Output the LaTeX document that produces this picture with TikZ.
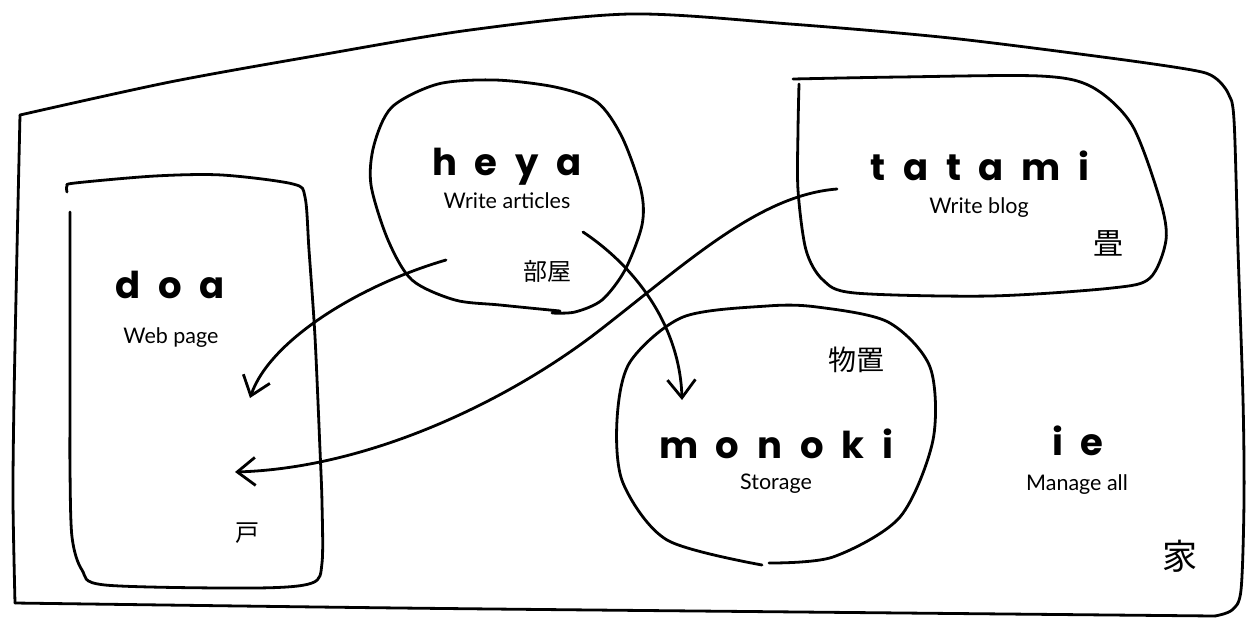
\documentclass[tikz,border=0pt]{standalone}
\usepackage{fontspec}
\setmainfont{Lato}
\newfontfamily\titlef[LetterSpace=48]{Poppins}
\newfontfamily\cjkf{Noto Sans CJK JP}
\usetikzlibrary{arrows.meta}
\begin{document}
\begin{tikzpicture}[x=1pt,y=-1pt,line cap=round,line join=round,
  title/.style={font=\titlef\bfseries\fontsize{37}{37}\selectfont,anchor=base,inner sep=0pt},
  sub/.style={font=\fontsize{21.5}{21.5}\selectfont,anchor=base,inner sep=0pt},
  kanji/.style={font=\cjkf\fontsize{24}{24}\selectfont,inner sep=0pt},
  sketch/.style={draw=black,line width=2.8pt},
  link/.style={draw=black,line width=2.8pt,-{Straight Barb[length=18pt,width=28pt]}}]
\useasboundingbox (0,0) rectangle (1260,630);

% outer house (ie)
\draw[sketch] plot[smooth] coordinates {(20,115) (170,82) (320,55) (470,30) (630,14) (790,24) (950,38) (1110,58) (1192,70) (1214,77) (1228,93) (1234,120) (1238,250) (1243,400) (1244,500) (1241,590) (1232,610) (1215,616)};
\draw[sketch] plot[smooth] coordinates {(1215,616) (800,612) (400,608) (15,603)};
\draw[sketch] plot[smooth] coordinates {(15,603) (13,500) (14,400) (17,250) (20,115)};

% doa box
\draw[sketch] plot[smooth] coordinates {(67,192) (67,186) (75,183) (155,176) (222,175) (293,184) (305,197) (309,250) (315,337) (320,450) (322,503) (322,563) (312,583) (255,588) (105,585) (82,570) (72,537) (70,470) (70,403) (70,303) (70,212)};

% heya blob
\draw[sketch] plot[smooth] coordinates {(560,311) (500,305) (455,300) (412,280) (388,240) (371,185) (374,145) (392,107) (438,84) (495,80) (555,87) (597,102) (622,137) (641,190) (642,225) (625,270) (602,300) (575,312) (552,313)};

% tatami box
\draw[sketch] plot[smooth] coordinates {(793,79) (900,77) (1040,76) (1092,87) (1132,125) (1160,200) (1166,240) (1150,278) (1112,288) (990,296) (855,293) (823,280) (806,250) (798,190) (798,130) (799,84)};

% monoki blob
\draw[sketch] plot[smooth] coordinates {(769,563) (833,557) (900,517) (933,440) (930,367) (888,322) (817,307) (767,306) (683,317) (630,362) (617,420) (623,483) (667,540) (762,565)};

% texts
\node[title] (heya) at (507,175) {heya};
\node[sub] (heyaSub) at (507,208) {Write articles};
\node[kanji] (heyaK) at (547,271) {部屋};

\node[title] (tatami) at (980,180) {tatami};
\node[sub] (tatamiSub) at (979,213) {Write blog};
\node[kanji,font=\cjkf\fontsize{30}{30}\selectfont] (tatamiK) at (1108,243) {畳};

\node[title] (doa) at (170,298) {doa};
\node[sub] (doaSub) at (171,343) {Web page};
\node[kanji] (doaK) at (247,533) {戸};

\node[title] (monoki) at (776,458) {monoki};
\node[sub] (monokiSub) at (776,489) {Storage};
\node[kanji,font=\cjkf\fontsize{28}{28}\selectfont] (monokiK) at (856,360) {物置};

\node[title] (ie) at (1078,455) {ie};
\node[sub] (ieSub) at (1077,490) {Manage all};
\node[kanji,font=\cjkf\fontsize{35}{35}\selectfont] (ieK) at (1180,556) {家};

% connector ends
\coordinate (a1s) at (446,260);
\coordinate (a1e) at (250,398);
\coordinate (a2s) at (837,189);
\coordinate (a2m) at (600,330);
\coordinate (a2e) at (235,472);
\coordinate (a3s) at (583,232);
\coordinate (a3e) at (682,400);

\draw[link] (a1s) .. controls (360,285) and (270,340) .. (a1e);
\draw[link] (a2s) .. controls (760,195) and (690,260) .. (a2m) .. controls (510,400) and (370,468) .. (a2e);
\draw[link] (a3s) .. controls (640,270) and (680,330) .. (a3e);
\end{tikzpicture}
\end{document}
